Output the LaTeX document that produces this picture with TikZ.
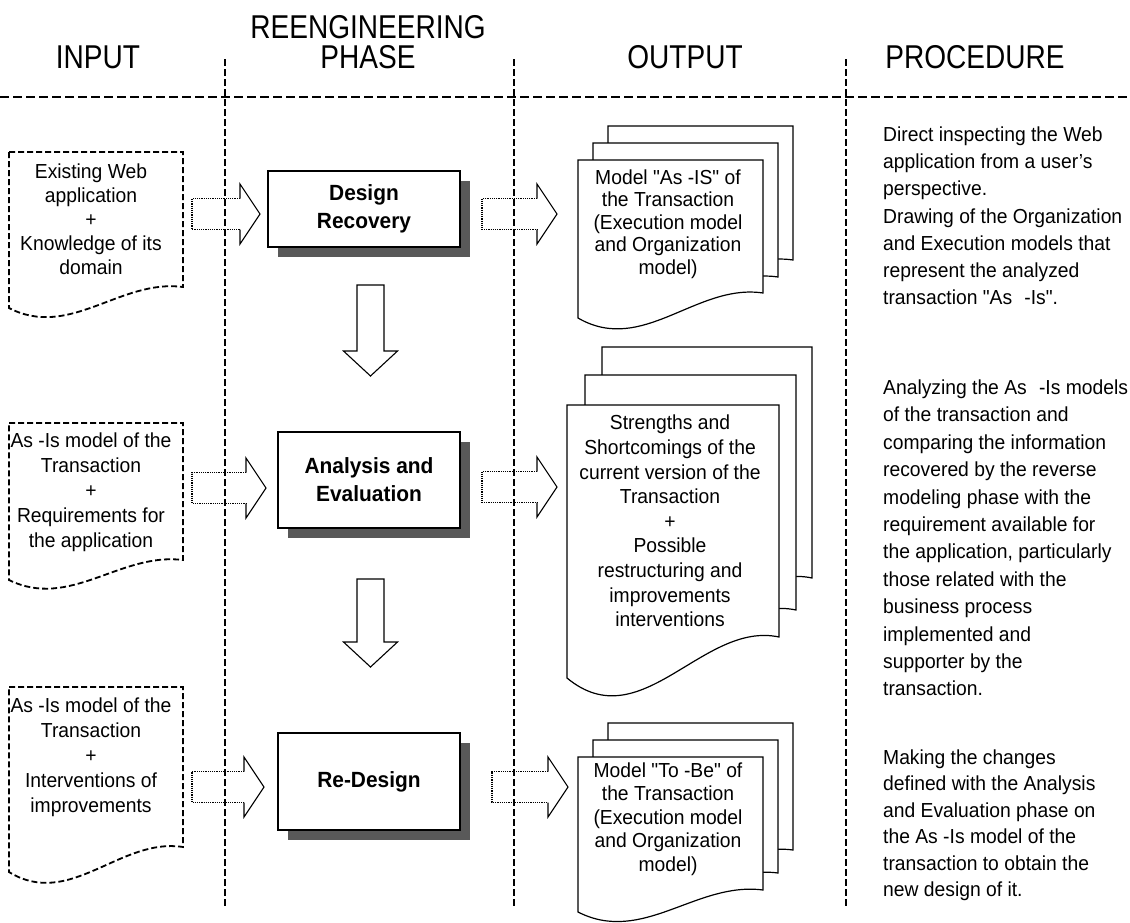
\documentclass[tikz,border=0pt]{standalone}
\usepackage{fontspec}
\setmainfont{Liberation Sans}[FakeStretch=0.95]
\newfontfamily\headfont{Liberation Sans}[FakeStretch=0.85]
\newfontfamily\plainq{Liberation Sans}[FakeStretch=0.95]
\newcommand{\mydq}{{\plainq"}}
\usetikzlibrary{calc,shadows}
\newcommand{\mydoc}[6]{\draw[#1] (#2,#4) -- (#3,#4) -- (#3,#6) .. controls ({#2+0.64*(#3-#2)},{#6-0.4*(#5-#6)}) and ({#2+0.35*(#3-#2)},{#5+1.5*(#5-#6)}) .. (#2,#5) -- cycle;}
\newcommand{\blockarrow}[2]{%
  \draw[shaft] let \p1=(#1), \p2=(#2) in (\x2-20pt,\y1+15.5pt) -- (\x1,\y1+15.5pt) -- (\x1,\y1-15.5pt) -- (\x2-20pt,\y1-15.5pt);
  \draw[head] let \p1=(#1), \p2=(#2) in (\x2-20pt,\y1+15.5pt) -- (\x2-20pt,\y1+30pt) -- (\x2,\y1) -- (\x2-20pt,\y1-30pt) -- (\x2-20pt,\y1-15.5pt);}
\newcommand{\downblock}[2]{%
  \draw[downarrow] let \p1=(#1), \p2=(#2) in (\x2-13.5pt,\y1) -- (\x2+13.5pt,\y1) -- (\x2+13.5pt,\y2+25pt) -- (\x2+27pt,\y2+25pt) -- (\x2,\y2) -- (\x2-27pt,\y2+25pt) -- (\x2-13.5pt,\y2+25pt) -- cycle;}
\begin{document}
\begin{tikzpicture}[x=1pt,y=-1pt,
  hdr/.style={font=\headfont\fontsize{33}{36}\selectfont, inner sep=0pt, anchor=base},
  body/.style={font=\fontsize{20.3}{#1}\selectfont, align=center, inner sep=0pt},
  body/.default=24,
  proc/.style={font=\fontsize{20.3}{#1}\selectfont, align=left, inner sep=0pt, anchor=north west},
  phase/.style={draw, line width=1.3pt, fill=white, align=center,
    font=\bfseries\fontsize{22}{28}\selectfont,
    drop shadow={shadow xshift=10pt, shadow yshift=-10pt, fill=black!65, opacity=1}},
  colline/.style={line width=1.8pt, dash pattern=on 7pt off 3pt},
  rowline/.style={line width=1.3pt, dash pattern=on 9pt off 4pt},
  indoc/.style={line width=1.8pt, dash pattern=on 6pt off 3pt, fill=white},
  outdoc/.style={line width=1.2pt, fill=white},
  shaft/.style={line width=1.8pt, dash pattern=on 1.2pt off 1pt},
  head/.style={line width=1.1pt},
  downarrow/.style={line width=1.1pt, fill=white}]
\fill[white] (0,0) rectangle (1130,922);
\useasboundingbox (0,0) rectangle (1130,922);

% headers
\node[hdr] (hin) at (98,68) {INPUT};
\node[hdr] (hre) at (368,38) {REENGINEERING};
\node[hdr] (hph) at (368,68) {PHASE};
\node[hdr] (hout) at (685,68) {OUTPUT};
\node[hdr] (hpro) at (975,68) {PROCEDURE};

% separators
\draw[rowline] (0,97) -- (1130,97);
\draw[colline] (225,59) -- (225,907);
\draw[colline] (514,59) -- (514,907);
\draw[colline] (846,59) -- (846,907);

% input documents
\mydoc{indoc}{9}{183}{152}{308}{287}
\mydoc{indoc}{9}{183}{423}{580}{560}
\mydoc{indoc}{9}{183}{687}{872}{847}
\node[body=24] (in1) at (91,219) {Existing Web\\application\\+\\Knowledge of its\\domain};
\node[body=25] (in2) at (91,492) {As -Is model of the\\Transaction\\+\\Requirements for\\the application};
\node[body=25] (in3) at (91,757) {As -Is model of the\\Transaction\\+\\Interventions of\\improvements};

% phase boxes
\node[phase, minimum width=192pt, minimum height=76pt] (dr) at (364,209) {Design\\Recovery};
\node[phase, minimum width=182pt, minimum height=96pt] (ae) at (369,480) {Analysis and\\Evaluation};
\node[phase, minimum width=182pt, minimum height=97pt] (rd) at (369,781.5) {Re-Design};

% output documents
\mydoc{outdoc}{608}{793}{126}{285}{260}
\mydoc{outdoc}{593}{778}{143}{302}{277}
\mydoc{outdoc}{578}{763}{160}{318}{293}
\mydoc{outdoc}{602}{812}{347}{619}{578}
\mydoc{outdoc}{585}{796}{375}{651}{610}
\mydoc{outdoc}{567}{779}{405}{678}{637}
\mydoc{outdoc}{608}{793}{723}{872}{850}
\mydoc{outdoc}{593}{778}{740}{895}{873}
\mydoc{outdoc}{578}{763}{757}{912}{890}
\node[body=22.5] (o1) at (668,224) {Model \mydq As -IS\mydq\ of\\the Transaction\\(Execution model\\and Organization\\model)};
\node[body=24.6] (o2) at (670,521) {Strengths and\\Shortcomings of the\\current version of the\\Transaction\\+\\Possible\\restructuring and\\improvements\\interventions};
\node[body=23.5] (o3) at (668,819) {Model \mydq To -Be\mydq\ of\\the Transaction\\(Execution model\\and Organization\\model)};

% block arrows input -> phase
\coordinate (a1s) at (192,214); \coordinate (a1t) at (260,214);
\coordinate (a2s) at (192,488); \coordinate (a2t) at (266,488);
\coordinate (a3s) at (192,787); \coordinate (a3t) at (264,787);
\blockarrow{a1s}{a1t}
\blockarrow{a2s}{a2t}
\blockarrow{a3s}{a3t}

% block arrows phase -> output
\coordinate (b1s) at (482,214); \coordinate (b1t) at (557,214);
\coordinate (b2s) at (482,487); \coordinate (b2t) at (557,487);
\coordinate (b3s) at (492,787); \coordinate (b3t) at (568,787);
\blockarrow{b1s}{b1t}
\blockarrow{b2s}{b2t}
\blockarrow{b3s}{b3t}

% down arrows between phases
\coordinate (d1s) at (370.5,285); \coordinate (d1t) at (370.5,376);
\coordinate (d2s) at (370.5,579); \coordinate (d2t) at (370.5,667);
\downblock{d1s}{d1t}
\downblock{d2s}{d2t}

% procedure texts
\node[proc=27.2] (p1) at (883,126.5) {Direct inspecting the Web\\application from a user's\\perspective.\\Drawing of the Organization\\and Execution models that\\represent the analyzed\\transaction \mydq As\hspace{0.6em}-Is\mydq.};
\node[proc=27.4] (p2) at (883,379.5) {Analyzing the As\hspace{0.6em}-Is models\\of the transaction and\\comparing the information\\recovered by the reverse\\modeling phase with the\\requirement available for\\the application, particularly\\those related with the\\business process\\implemented and\\supporter by the\\transaction.};
\node[proc=26.4] (p3) at (883,749.5) {Making the changes\\defined with the Analysis\\and Evaluation phase on\\the As -Is model of the\\transaction to obtain the\\new design of it.};
\end{tikzpicture}
\end{document}
